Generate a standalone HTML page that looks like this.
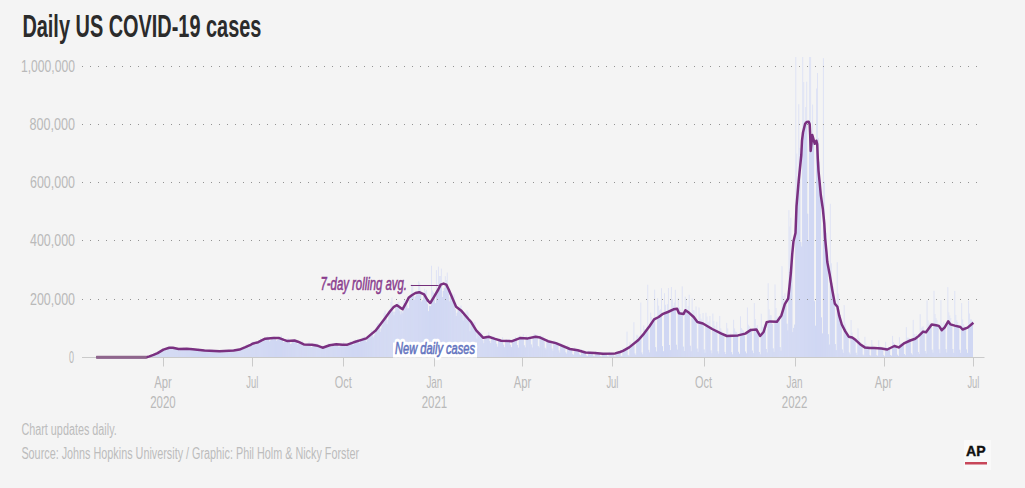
<!DOCTYPE html>
<html><head><meta charset="utf-8"><style>
html,body{margin:0;padding:0;background:#f4f4f4;width:1025px;height:488px;overflow:hidden}
svg{display:block}
text{font-family:"Liberation Sans",sans-serif}
</style></head><body>
<svg width="1025" height="488" viewBox="0 0 1025 488">
<rect width="1025" height="488" fill="#f4f4f4"/>
<defs><clipPath id="below"><path d="M96.3 357.3 L146.6 357.3 L149.4 356.4 L153.5 354.9 L157.6 353.1 L163.4 349.6 L169.3 347.8 L172.8 347.8 L178.6 349 L186.8 348.8 L192.7 349.2 L204.4 350.5 L219.6 351.2 L233.7 350.5 L239.5 349.6 L245.4 347.2 L250 345.2 L252.4 343.7 L258.2 342.2 L265.2 338.7 L273.4 338.1 L279.3 338.1 L284 339.9 L287.5 341.1 L294.5 340.5 L298 341.7 L303.9 344.4 L312 344.8 L317.9 345.8 L322.6 347.7 L329.6 345.2 L336.3 344.2 L342.6 344.7 L347.4 344.7 L353.7 342.3 L361.5 339.9 L366.3 338.4 L371 334.4 L375.7 330.5 L380.5 324.2 L385.2 317.9 L389.9 311.5 L393.9 306.8 L397 305.2 L400.2 307.6 L402.6 309.2 L405.7 303.7 L408.9 297.4 L411.8 295.2 L415.5 293 L419.2 292.2 L424.1 294.4 L427.8 300.6 L430.3 303 L434 296.9 L438.3 289.5 L440.7 284.6 L443.6 283.6 L446.3 284.6 L448.7 289.5 L456.1 306.7 L461 310.4 L468.4 319 L471 321.8 L476.2 330.3 L483.3 337.8 L488.7 336.8 L495 338.9 L501.2 340.8 L512.1 341.2 L520 338.1 L527.8 338.4 L535.6 336.8 L540.2 337.6 L548 341.2 L555.9 343.1 L569.9 349 L577.7 350.3 L585.5 352.5 L594.9 352.9 L602.7 353.7 L615.2 353.4 L620 352 L623 350.9 L629.2 347.4 L638.4 340 L644 333.6 L649.5 326.2 L654.1 319.4 L658.7 317 L662.4 314.2 L667.9 312 L673.5 309.3 L677.1 308.7 L679 313.3 L683.6 313.9 L685.4 310.2 L689.1 312.8 L693.7 317 L697.4 322 L702.9 323.5 L712.2 329 L721.4 333.6 L726.9 336 L738 335.4 L745.3 333.6 L750.9 329.9 L756.4 329.4 L760.1 336 L763.6 332 L766.6 322.3 L770 321.4 L776.9 321.7 L781.4 315.4 L784.8 304.1 L788.2 298.5 L789.3 288.3 L790.9 272.5 L792.2 254.5 L793.5 241.2 L795.5 233 L796.5 206.3 L798.6 181.7 L801.3 155 L802 140.7 L803 132.5 L805.1 123.8 L806.6 122.1 L808.7 121.8 L809.7 124.3 L810.2 135.6 L810.7 151 L812.3 135 L814.8 143.8 L816.3 140.7 L817.2 144 L817.8 158.5 L818.5 170.8 L819.7 183 L820.8 195 L822.9 209.3 L824.3 223.7 L825.1 238 L826.5 252.3 L827.3 262 L829.6 273.9 L832.2 289.6 L834.8 303.6 L837.4 306.8 L839.2 315.7 L841.8 324.5 L845.3 331.4 L848.7 336.7 L852.2 337.5 L855.7 340.1 L860.1 344.2 L864.8 347.4 L870 348.1 L874.3 348.1 L881.5 348.5 L887.3 349.5 L894.4 346 L898.7 347.4 L904.5 343.1 L910.2 340.5 L915.2 338.8 L918.8 335.9 L923.1 331.6 L926 332.3 L931.7 324.4 L936 325.2 L938.9 325.9 L941.8 330.2 L944.7 327.3 L948.2 321.3 L950.4 324.4 L954.7 325.6 L960.4 327 L962.6 329.5 L967.6 327.6 L973.4 322.7 L973.4 357.4 L96.3 357.4 Z"/></clipPath></defs>
<path d="M148.18 357.4V356.8M149.17 357.4V356.42M150.15 357.4V355.82M151.14 357.4V355.73M152.13 357.4V355.64M153.12 357.4V355.3M154.1 357.4V354.63M155.09 357.4V353.87M156.08 357.4V353.13M157.06 357.4V352.42M158.05 357.4V352.59M159.04 357.4V353.34M160.03 357.4V352.44M161.01 357.4V351.63M162 357.4V350.04M162.99 357.4V348.7M163.97 357.4V348.89M164.96 357.4V349.54M165.95 357.4V350.35M166.94 357.4V349.91M167.92 357.4V347.98M168.91 357.4V347.68M169.9 357.4V346.61M170.88 357.4V346.37M171.87 357.4V347.67M172.86 357.4V348.78M173.85 357.4V348.56M174.83 357.4V348.96M175.82 357.4V347.46M176.81 357.4V347.99M177.8 357.4V348.18M178.78 357.4V349.15M179.77 357.4V350.31M180.76 357.4V349.41M181.74 357.4V349.26M182.73 357.4V349.17M183.72 357.4V347.48M184.71 357.4V348.18M185.69 357.4V348.86M186.68 357.4V349.77M187.67 357.4V349.87M188.65 357.4V349.17M189.64 357.4V348.15M190.63 357.4V348.93M191.62 357.4V347.77M192.6 357.4V349.31M193.59 357.4V350.07M194.58 357.4V350.03M195.57 357.4V350.23M196.55 357.4V349.64M197.54 357.4V349.04M198.53 357.4V348.43M199.51 357.4V350.16M200.5 357.4V351.38M201.49 357.4V350.61M202.48 357.4V349.92M203.46 357.4V350.15M204.45 357.4V349.33M205.44 357.4V349.73M206.42 357.4V351.05M207.41 357.4V351.7M208.4 357.4V351.34M209.39 357.4V350.45M210.37 357.4V349.93M211.36 357.4V349.85M212.35 357.4V349.57M213.33 357.4V350.69M214.32 357.4V351.81M215.31 357.4V351.53M216.3 357.4V350.7M217.28 357.4V350.91M218.27 357.4V350.97M219.26 357.4V350.55M220.25 357.4V351.45M221.23 357.4V352.24M222.22 357.4V351.55M223.21 357.4V351.59M224.19 357.4V350.7M225.18 357.4V349.92M226.17 357.4V350.18M227.16 357.4V351.28M228.14 357.4V352.07M229.13 357.4V351.92M230.12 357.4V350.49M231.1 357.4V350.67M232.09 357.4V350.26M233.08 357.4V349.1M234.07 357.4V350.1M235.05 357.4V351.34M236.04 357.4V350.58M237.03 357.4V350.64M238.02 357.4V348.86M239 357.4V348.81M239.99 357.4V348.49M240.98 357.4V348.56M241.96 357.4V349.82M242.95 357.4V348.67M243.94 357.4V348.58M244.93 357.4V346.76M245.91 357.4V345.98M246.9 357.4V344.62M247.89 357.4V346.58M248.87 357.4V348.3M249.86 357.4V346.64M250.85 357.4V345.19M251.84 357.4V342.51M252.82 357.4V342.31M253.81 357.4V341.44M254.8 357.4V342.78M255.78 357.4V345.1M256.77 357.4V343.39M257.76 357.4V341.93M258.75 357.4V341.16M259.73 357.4V340.65M260.72 357.4V338.16M261.71 357.4V339.77M262.7 357.4V342.14M263.68 357.4V340.36M264.67 357.4V340.15M265.66 357.4V337.96M266.64 357.4V336.97M267.63 357.4V336.32M268.62 357.4V338.86M269.61 357.4V341.48M270.59 357.4V340.48M271.58 357.4V339.32M272.57 357.4V338.38M273.55 357.4V336.84M274.54 357.4V336.5M275.53 357.4V338.66M276.52 357.4V340.72M277.5 357.4V340.14M278.49 357.4V336.98M279.48 357.4V337.01M280.47 357.4V336.5M281.45 357.4V335.67M282.44 357.4V338.65M283.43 357.4V342.24M284.41 357.4V341.91M285.4 357.4V340.44M286.39 357.4V340.29M287.38 357.4V338.63M288.36 357.4V338.25M289.35 357.4V341.44M290.34 357.4V344.07M291.32 357.4V343.77M292.31 357.4V341.42M293.3 357.4V341.14M294.29 357.4V339.82M295.27 357.4V339.62M296.26 357.4V341.68M297.25 357.4V344.32M298.23 357.4V343.48M299.22 357.4V341.91M300.21 357.4V341.67M301.2 357.4V342.59M302.18 357.4V340.55M303.17 357.4V343.57M304.16 357.4V346.49M305.15 357.4V345.75M306.13 357.4V344.75M307.12 357.4V344.63M308.11 357.4V343.01M309.09 357.4V341.6M310.08 357.4V344.16M311.07 357.4V347.32M312.06 357.4V346.99M313.04 357.4V344.39M314.03 357.4V343.69M315.02 357.4V343.57M316 357.4V343.12M316.99 357.4V346.32M317.98 357.4V347.2M318.97 357.4V348.06M319.95 357.4V347.43M320.94 357.4V346.67M321.93 357.4V347.31M322.92 357.4V345.49M323.9 357.4V347.79M324.89 357.4V348.23M325.88 357.4V347.71M326.86 357.4V345.93M327.85 357.4V345.05M328.84 357.4V343.31M329.83 357.4V343.6M330.81 357.4V345.02M331.8 357.4V347.15M332.79 357.4V345.81M333.77 357.4V345.23M334.76 357.4V343.13M335.75 357.4V343.93M336.74 357.4V342.9M337.72 357.4V344.44M338.71 357.4V347.13M339.7 357.4V346.56M340.69 357.4V344.12M341.67 357.4V344.26M342.66 357.4V344.06M343.65 357.4V341.99M344.63 357.4V344.55M345.62 357.4V346.5M346.61 357.4V345.53M347.6 357.4V344.45M348.58 357.4V344.11M349.57 357.4V343.69M350.56 357.4V341.29M351.54 357.4V342.65M352.53 357.4V344.49M353.52 357.4V344.83M354.51 357.4V342.04M355.49 357.4V339.81M356.48 357.4V340.53M357.47 357.4V339.32M358.45 357.4V341.03M359.44 357.4V343.07M360.43 357.4V341.11M361.42 357.4V340.03M362.4 357.4V337.57M363.39 357.4V337M364.38 357.4V336.33M365.37 357.4V339.27M366.35 357.4V341.79M367.34 357.4V339.13M368.33 357.4V338.14M369.31 357.4V336.07M370.3 357.4V333.89M371.29 357.4V329.95M372.28 357.4V333.84M373.26 357.4V337.48M374.25 357.4V335.4M375.24 357.4V333.15M376.22 357.4V328.73M377.21 357.4V324.05M378.2 357.4V322.99M379.19 357.4V326.19M380.17 357.4V331.95M381.16 357.4V328.47M382.15 357.4V325.06M383.14 357.4V321.62M384.12 357.4V313.1M385.11 357.4V310.56M386.1 357.4V314.53M387.08 357.4V324.14M388.07 357.4V320.02M389.06 357.4V310.64M390.05 357.4V309.54M391.03 357.4V301.91M392.02 357.4V297.64M393.01 357.4V311.76M393.99 357.4V315.31M394.98 357.4V311.78M395.97 357.4V307.99M396.96 357.4V303.7M397.94 357.4V302.06M398.93 357.4V301.55M399.92 357.4V311.18M400.9 357.4V314.43M401.89 357.4V311.15M402.88 357.4V313.2M403.87 357.4V301.39M404.85 357.4V299.57M405.84 357.4V300.1M406.83 357.4V305.34M407.82 357.4V308.6M408.8 357.4V308.1M409.79 357.4V299.88M410.78 357.4V295.23M411.76 357.4V283.86M412.75 357.4V285.57M413.74 357.4V296.22M414.73 357.4V299.92M415.71 357.4V296.45M416.7 357.4V291.81M417.69 357.4V293.24M418.67 357.4V281.34M419.66 357.4V283.36M420.65 357.4V289.9M421.64 357.4V301.64M422.62 357.4V300M423.61 357.4V292.8M424.6 357.4V288.87M425.59 357.4V291.25M426.57 357.4V289.88M427.56 357.4V303.88M428.55 357.4V311.26M429.53 357.4V305.88M430.52 357.4V306.13M431.51 357.4V265.73M432.5 357.4V290.45M433.48 357.4V292.14M434.47 357.4V293.5M435.46 357.4V303.14M436.44 357.4V270.1M437.43 357.4V293.49M438.42 357.4V266.61M439.41 357.4V275.98M440.39 357.4V276.01M441.38 357.4V268.64M442.37 357.4V297.06M443.35 357.4V290.94M444.34 357.4V288.14M445.33 357.4V276.18M446.32 357.4V279.98M447.3 357.4V272.6M448.29 357.4V290.63M449.28 357.4V301.45M450.27 357.4V297.41M451.25 357.4V296.71M452.24 357.4V293.46M453.23 357.4V295.87M454.21 357.4V294.44M455.2 357.4V309.44M456.19 357.4V316.01M457.18 357.4V312.77M458.16 357.4V310.29M459.15 357.4V309.12M460.14 357.4V306.32M461.12 357.4V305.43M462.11 357.4V315.09M463.1 357.4V320.61M464.09 357.4V314.79M465.07 357.4V312.35M466.06 357.4V314.58M467.05 357.4V310.63M468.04 357.4V312.34M469.02 357.4V320.09M470.01 357.4V331.25M471 357.4V322.4M471.98 357.4V322.64M472.97 357.4V323.1M473.96 357.4V322.16M474.95 357.4V322.31M475.93 357.4V331.72M476.92 357.4V338.63M477.91 357.4V333.45M478.89 357.4V332.35M479.88 357.4V334.62M480.87 357.4V331.79M481.86 357.4V332.97M482.84 357.4V340.38M483.83 357.4V343.25M484.82 357.4V336.36M485.8 357.4V335.81M486.79 357.4V335.39M487.78 357.4V335.98M488.77 357.4V332.2M489.75 357.4V341M490.74 357.4V343.09M491.73 357.4V337.66M492.72 357.4V336.91M493.7 357.4V336.03M494.69 357.4V338.38M495.68 357.4V337.29M496.66 357.4V343.85M497.65 357.4V346.79M498.64 357.4V339.97M499.63 357.4V338.38M500.61 357.4V340.24M501.6 357.4V340.29M502.59 357.4V337.3M503.57 357.4V344.8M504.56 357.4V347.25M505.55 357.4V339.62M506.54 357.4V339.25M507.52 357.4V340.7M508.51 357.4V340.29M509.5 357.4V339.17M510.49 357.4V344.82M511.47 357.4V347.17M512.46 357.4V340.76M513.45 357.4V339.09M514.43 357.4V339.26M515.42 357.4V336.98M516.41 357.4V337.84M517.4 357.4V345.03M518.38 357.4V347.7M519.37 357.4V335.35M520.36 357.4V337.85M521.34 357.4V337.52M522.33 357.4V337.13M523.32 357.4V334.3M524.31 357.4V345.4M525.29 357.4V347.46M526.28 357.4V335.57M527.27 357.4V337.96M528.25 357.4V336.66M529.24 357.4V336.43M530.23 357.4V337.15M531.22 357.4V344.54M532.2 357.4V347.57M533.19 357.4V335.64M534.18 357.4V333.6M535.17 357.4V334.15M536.15 357.4V335.03M537.14 357.4V335.19M538.13 357.4V346.04M539.11 357.4V347.49M540.1 357.4V335.36M541.09 357.4V336.07M542.08 357.4V336.6M543.06 357.4V336.25M544.05 357.4V338.28M545.04 357.4V347.87M546.02 357.4V349.36M547.01 357.4V339.21M548 357.4V339.74M548.99 357.4V341.45M549.97 357.4V340.91M550.96 357.4V340.91M551.95 357.4V348.55M552.94 357.4V350.82M553.92 357.4V340.42M554.91 357.4V340.96M555.9 357.4V341.95M556.88 357.4V343.13M557.87 357.4V342.68M558.86 357.4V350.34M559.85 357.4V352.71M560.83 357.4V343.12M561.82 357.4V344.43M562.81 357.4V346.04M563.79 357.4V344.8M564.78 357.4V345.81M565.77 357.4V352.33M566.76 357.4V353.82M567.74 357.4V345.34M568.73 357.4V347.06M569.72 357.4V348.35M570.7 357.4V348.86M571.69 357.4V348.48M572.68 357.4V354.05M573.67 357.4V354.95M574.65 357.4V347.3M575.64 357.4V348.87M576.63 357.4V349.12M577.62 357.4V349.28M578.6 357.4V349.75M579.59 357.4V354.49M580.58 357.4V355.31M581.56 357.4V349.14M582.55 357.4V351.06M583.54 357.4V351.07M584.53 357.4V351.73M585.51 357.4V352.21M586.5 357.4V355.5M587.49 357.4V356.02M588.47 357.4V350.79M589.46 357.4V351.55M590.45 357.4V352.23M591.44 357.4V352.04M592.42 357.4V352.27M593.41 357.4V355.83M594.4 357.4V356.26M595.39 357.4V351.32M596.37 357.4V352.11M597.36 357.4V352.62M598.35 357.4V353.2M599.33 357.4V352.8M600.32 357.4V355.97M601.31 357.4V356.57M602.3 357.4V352.19M603.28 357.4V353.24M604.27 357.4V353.13M605.26 357.4V352.97M606.24 357.4V353.42M607.23 357.4V356.17M608.22 357.4V356.67M609.21 357.4V351.81M610.19 357.4V353.14M611.18 357.4V352.94M612.17 357.4V353.28M613.15 357.4V353.14M614.14 357.4V356.36M615.13 357.4V356.69M616.12 357.4V351.76M617.1 357.4V352.08M618.09 357.4V352.19M619.08 357.4V351.97M620.07 357.4V351.7M621.05 357.4V355.9M622.04 357.4V356.47M623.03 357.4V347.88M624.01 357.4V349.38M625 357.4V348.95M625.99 357.4V349M626.98 357.4V331.66M627.96 357.4V355.1M628.95 357.4V355.9M629.94 357.4V342.06M630.92 357.4V343.59M631.91 357.4V344.91M632.9 357.4V343.41M633.89 357.4V322.16M634.87 357.4V353.5M635.86 357.4V354.95M636.85 357.4V334.82M637.84 357.4V335.65M638.82 357.4V338.51M639.81 357.4V336.1M640.8 357.4V302.58M641.78 357.4V352.51M642.77 357.4V354.27M643.76 357.4V325.41M644.75 357.4V328.99M645.73 357.4V330.15M646.72 357.4V326.94M647.71 357.4V284.75M648.69 357.4V349.89M649.68 357.4V352.53M650.67 357.4V312.64M651.66 357.4V317.02M652.64 357.4V320.28M653.63 357.4V318.22M654.62 357.4V289.67M655.61 357.4V347.2M656.59 357.4V351.53M657.58 357.4V298.24M658.57 357.4V305.62M659.55 357.4V310.29M660.54 357.4V309.38M661.53 357.4V288.13M662.52 357.4V346.25M663.5 357.4V351.34M664.49 357.4V293.24M665.48 357.4V304.72M666.46 357.4V311.38M667.45 357.4V304.23M668.44 357.4V288M669.43 357.4V345.02M670.41 357.4V350.09M671.4 357.4V287.02M672.39 357.4V299.17M673.37 357.4V305.81M674.36 357.4V302.64M675.35 357.4V289.81M676.34 357.4V344.8M677.32 357.4V349.65M678.31 357.4V297.87M679.3 357.4V307.36M680.29 357.4V309.61M681.27 357.4V312.86M682.26 357.4V286.42M683.25 357.4V346.65M684.23 357.4V351.03M685.22 357.4V296.64M686.21 357.4V300.23M687.2 357.4V308.99M688.18 357.4V306.04M689.17 357.4V294.81M690.16 357.4V345.8M691.14 357.4V351.2M692.13 357.4V298.45M693.12 357.4V309.97M694.11 357.4V310.42M695.09 357.4V316.54M696.08 357.4V306.42M697.07 357.4V348.65M698.06 357.4V351.96M699.04 357.4V307.53M700.03 357.4V313.96M701.02 357.4V318.74M702 357.4V320.04M702.99 357.4V312.99M703.98 357.4V349.54M704.97 357.4V352.8M705.95 357.4V312.78M706.94 357.4V316.52M707.93 357.4V322.2M708.91 357.4V321.57M709.9 357.4V315.96M710.89 357.4V350.44M711.88 357.4V353.45M712.86 357.4V313.54M713.85 357.4V320.98M714.84 357.4V325.79M715.82 357.4V329.78M716.81 357.4V321.84M717.8 357.4V351.38M718.79 357.4V353.77M719.77 357.4V315.96M720.76 357.4V328.29M721.75 357.4V330.83M722.74 357.4V332.21M723.72 357.4V333.76M724.71 357.4V351.92M725.7 357.4V354.07M726.68 357.4V322.92M727.67 357.4V328.36M728.66 357.4V334.55M729.65 357.4V334.8M730.63 357.4V333.49M731.62 357.4V352.1M732.61 357.4V354.4M733.59 357.4V319.72M734.58 357.4V328.35M735.57 357.4V331.6M736.56 357.4V331.91M737.54 357.4V333.7M738.53 357.4V351.89M739.52 357.4V353.82M740.51 357.4V316.31M741.49 357.4V328.09M742.48 357.4V329.61M743.47 357.4V330.52M744.45 357.4V334.54M745.44 357.4V351.59M746.43 357.4V353.51M747.42 357.4V307.56M748.4 357.4V324.7M749.39 357.4V326.33M750.38 357.4V327.93M751.36 357.4V328.79M752.35 357.4V350.64M753.34 357.4V353.23M754.33 357.4V303.14M755.31 357.4V319.05M756.3 357.4V326.88M757.29 357.4V325.23M758.27 357.4V332.11M759.26 357.4V351.97M760.25 357.4V354.34M761.24 357.4V313.75M762.22 357.4V326.7M763.21 357.4V326.66M764.2 357.4V324.53M765.19 357.4V327.91M766.17 357.4V349M767.16 357.4V352.5M768.15 357.4V283.24M769.13 357.4V309.3M770.12 357.4V315.06M771.11 357.4V315.37M772.1 357.4V323.94M773.08 357.4V348.4M774.07 357.4V351.94M775.06 357.4V284.47M776.04 357.4V307.99M777.03 357.4V317.25M778.02 357.4V316.3M779.01 357.4V319.13M779.99 357.4V347.2M780.98 357.4V350.84M781.97 357.4V266.21M782.96 357.4V295.91M783.94 357.4V300.41M784.93 357.4V293.43M785.92 357.4V303.4M786.9 357.4V323.75M787.89 357.4V330.45M788.88 357.4V210.15M789.87 357.4V226.45M790.85 357.4V217.72M791.84 357.4V256.72M792.83 357.4V332.08M793.81 357.4V327.95M794.8 357.4V324.67M795.79 357.4V57M796.78 357.4V153.7M797.76 357.4V186.87M798.75 357.4V104.23M799.74 357.4V147.95M800.72 357.4V242.14M801.71 357.4V246.59M802.7 357.4V57M803.69 357.4V82.01M804.67 357.4V120.56M805.66 357.4V107.04M806.65 357.4V81.68M807.64 357.4V213.79M808.62 357.4V240.29M809.61 357.4V57M810.6 357.4V57M811.58 357.4V136.83M812.57 357.4V104.56M813.56 357.4V136.32M814.55 357.4V301.21M815.53 357.4V325.81M816.52 357.4V88.52M817.51 357.4V72.99M818.49 357.4V138.14M819.48 357.4V161.65M820.47 357.4V179.93M821.46 357.4V317.48M822.44 357.4V333.49M823.43 357.4V58.13M824.42 357.4V181.63M825.41 357.4V227.98M826.39 357.4V232.28M827.38 357.4V268.26M828.37 357.4V334.32M829.35 357.4V344.63M830.34 357.4V203.83M831.33 357.4V263.29M832.32 357.4V282.8M833.3 357.4V286.6M834.29 357.4V301.52M835.28 357.4V344.11M836.26 357.4V350.19M837.25 357.4V262.2M838.24 357.4V293.59M839.23 357.4V312.03M840.21 357.4V314.72M841.2 357.4V321.38M842.19 357.4V349.51M843.17 357.4V352.94M844.16 357.4V305.09M845.15 357.4V323.57M846.14 357.4V328.68M847.12 357.4V331.02M848.11 357.4V336.19M849.1 357.4V352.52M850.09 357.4V354.4M851.07 357.4V319.98M852.06 357.4V332.39M853.05 357.4V336.98M854.03 357.4V337.23M855.02 357.4V340.83M856.01 357.4V352.86M857 357.4V354.98M857.98 357.4V328.37M858.97 357.4V338.53M859.96 357.4V342.65M860.94 357.4V342.54M861.93 357.4V345.42M862.92 357.4V354.63M863.91 357.4V355.71M864.89 357.4V336.83M865.88 357.4V343.67M866.87 357.4V346.63M867.86 357.4V346.58M868.84 357.4V347.69M869.83 357.4V355.02M870.82 357.4V356.06M871.8 357.4V340.01M872.79 357.4V344.67M873.78 357.4V346.98M874.77 357.4V347.59M875.75 357.4V347.9M876.74 357.4V355.17M877.73 357.4V355.98M878.71 357.4V340.39M879.7 357.4V346.15M880.69 357.4V346.43M881.68 357.4V347.02M882.66 357.4V348.83M883.65 357.4V355.15M884.64 357.4V356.11M885.62 357.4V341.86M886.61 357.4V347.36M887.6 357.4V347.58M888.59 357.4V346.9M889.57 357.4V348.09M890.56 357.4V355.01M891.55 357.4V355.8M892.54 357.4V335.9M893.52 357.4V342.14M894.51 357.4V343.9M895.5 357.4V345.28M896.48 357.4V346.03M897.47 357.4V354.79M898.46 357.4V355.93M899.45 357.4V337.2M900.43 357.4V343.27M901.42 357.4V343.48M902.41 357.4V343.8M903.39 357.4V344.21M904.38 357.4V353.99M905.37 357.4V355.34M906.36 357.4V327.09M907.34 357.4V337.59M908.33 357.4V337.83M909.32 357.4V338.35M910.31 357.4V341.42M911.29 357.4V353.37M912.28 357.4V354.73M913.27 357.4V319.91M914.25 357.4V333.98M915.24 357.4V335.85M916.23 357.4V333.96M917.22 357.4V336.69M918.2 357.4V352.06M919.19 357.4V353.91M920.18 357.4V314.1M921.16 357.4V328M922.15 357.4V326.79M923.14 357.4V326.28M924.13 357.4V329.9M925.11 357.4V351.05M926.1 357.4V353.66M927.09 357.4V300.32M928.07 357.4V320.33M929.06 357.4V324.1M930.05 357.4V322.45M931.04 357.4V325.43M932.02 357.4V349.74M933.01 357.4V352.76M934 357.4V290.85M934.99 357.4V314.02M935.97 357.4V318.09M936.96 357.4V320.2M937.95 357.4V327.46M938.93 357.4V349.3M939.92 357.4V353.15M940.91 357.4V300.07M941.9 357.4V323.61M942.88 357.4V326.04M943.87 357.4V321.74M944.86 357.4V326.77M945.84 357.4V349.07M946.83 357.4V352.62M947.82 357.4V287.12M948.81 357.4V312.37M949.79 357.4V315.5M950.78 357.4V318.11M951.77 357.4V323.1M952.76 357.4V349.08M953.74 357.4V352.92M954.73 357.4V290.93M955.72 357.4V314.9M956.7 357.4V320.25M957.69 357.4V322.09M958.68 357.4V327.7M959.67 357.4V349.76M960.65 357.4V352.95M961.64 357.4V303.07M962.63 357.4V319.53M963.61 357.4V324.03M964.6 357.4V326.28M965.59 357.4V327.84M966.58 357.4V349.52M967.56 357.4V352.91M968.55 357.4V300.65M969.54 357.4V313.48M970.52 357.4V319.4M971.51 357.4V319.45M972.5 357.4V321" stroke="#dfe3f5" stroke-width="0.99" fill="none"/>
<path d="M148.18 357.4V356.8M149.17 357.4V356.42M150.15 357.4V355.82M151.14 357.4V355.73M152.13 357.4V355.64M153.12 357.4V355.3M154.1 357.4V354.63M155.09 357.4V353.87M156.08 357.4V353.13M157.06 357.4V352.42M158.05 357.4V352.59M159.04 357.4V353.34M160.03 357.4V352.44M161.01 357.4V351.63M162 357.4V350.04M162.99 357.4V348.7M163.97 357.4V348.89M164.96 357.4V349.54M165.95 357.4V350.35M166.94 357.4V349.91M167.92 357.4V347.98M168.91 357.4V347.68M169.9 357.4V346.61M170.88 357.4V346.37M171.87 357.4V347.67M172.86 357.4V348.78M173.85 357.4V348.56M174.83 357.4V348.96M175.82 357.4V347.46M176.81 357.4V347.99M177.8 357.4V348.18M178.78 357.4V349.15M179.77 357.4V350.31M180.76 357.4V349.41M181.74 357.4V349.26M182.73 357.4V349.17M183.72 357.4V347.48M184.71 357.4V348.18M185.69 357.4V348.86M186.68 357.4V349.77M187.67 357.4V349.87M188.65 357.4V349.17M189.64 357.4V348.15M190.63 357.4V348.93M191.62 357.4V347.77M192.6 357.4V349.31M193.59 357.4V350.07M194.58 357.4V350.03M195.57 357.4V350.23M196.55 357.4V349.64M197.54 357.4V349.04M198.53 357.4V348.43M199.51 357.4V350.16M200.5 357.4V351.38M201.49 357.4V350.61M202.48 357.4V349.92M203.46 357.4V350.15M204.45 357.4V349.33M205.44 357.4V349.73M206.42 357.4V351.05M207.41 357.4V351.7M208.4 357.4V351.34M209.39 357.4V350.45M210.37 357.4V349.93M211.36 357.4V349.85M212.35 357.4V349.57M213.33 357.4V350.69M214.32 357.4V351.81M215.31 357.4V351.53M216.3 357.4V350.7M217.28 357.4V350.91M218.27 357.4V350.97M219.26 357.4V350.55M220.25 357.4V351.45M221.23 357.4V352.24M222.22 357.4V351.55M223.21 357.4V351.59M224.19 357.4V350.7M225.18 357.4V349.92M226.17 357.4V350.18M227.16 357.4V351.28M228.14 357.4V352.07M229.13 357.4V351.92M230.12 357.4V350.49M231.1 357.4V350.67M232.09 357.4V350.26M233.08 357.4V349.1M234.07 357.4V350.1M235.05 357.4V351.34M236.04 357.4V350.58M237.03 357.4V350.64M238.02 357.4V348.86M239 357.4V348.81M239.99 357.4V348.49M240.98 357.4V348.56M241.96 357.4V349.82M242.95 357.4V348.67M243.94 357.4V348.58M244.93 357.4V346.76M245.91 357.4V345.98M246.9 357.4V344.62M247.89 357.4V346.58M248.87 357.4V348.3M249.86 357.4V346.64M250.85 357.4V345.19M251.84 357.4V342.51M252.82 357.4V342.31M253.81 357.4V341.44M254.8 357.4V342.78M255.78 357.4V345.1M256.77 357.4V343.39M257.76 357.4V341.93M258.75 357.4V341.16M259.73 357.4V340.65M260.72 357.4V338.16M261.71 357.4V339.77M262.7 357.4V342.14M263.68 357.4V340.36M264.67 357.4V340.15M265.66 357.4V337.96M266.64 357.4V336.97M267.63 357.4V336.32M268.62 357.4V338.86M269.61 357.4V341.48M270.59 357.4V340.48M271.58 357.4V339.32M272.57 357.4V338.38M273.55 357.4V336.84M274.54 357.4V336.5M275.53 357.4V338.66M276.52 357.4V340.72M277.5 357.4V340.14M278.49 357.4V336.98M279.48 357.4V337.01M280.47 357.4V336.5M281.45 357.4V335.67M282.44 357.4V338.65M283.43 357.4V342.24M284.41 357.4V341.91M285.4 357.4V340.44M286.39 357.4V340.29M287.38 357.4V338.63M288.36 357.4V338.25M289.35 357.4V341.44M290.34 357.4V344.07M291.32 357.4V343.77M292.31 357.4V341.42M293.3 357.4V341.14M294.29 357.4V339.82M295.27 357.4V339.62M296.26 357.4V341.68M297.25 357.4V344.32M298.23 357.4V343.48M299.22 357.4V341.91M300.21 357.4V341.67M301.2 357.4V342.59M302.18 357.4V340.55M303.17 357.4V343.57M304.16 357.4V346.49M305.15 357.4V345.75M306.13 357.4V344.75M307.12 357.4V344.63M308.11 357.4V343.01M309.09 357.4V341.6M310.08 357.4V344.16M311.07 357.4V347.32M312.06 357.4V346.99M313.04 357.4V344.39M314.03 357.4V343.69M315.02 357.4V343.57M316 357.4V343.12M316.99 357.4V346.32M317.98 357.4V347.2M318.97 357.4V348.06M319.95 357.4V347.43M320.94 357.4V346.67M321.93 357.4V347.31M322.92 357.4V345.49M323.9 357.4V347.79M324.89 357.4V348.23M325.88 357.4V347.71M326.86 357.4V345.93M327.85 357.4V345.05M328.84 357.4V343.31M329.83 357.4V343.6M330.81 357.4V345.02M331.8 357.4V347.15M332.79 357.4V345.81M333.77 357.4V345.23M334.76 357.4V343.13M335.75 357.4V343.93M336.74 357.4V342.9M337.72 357.4V344.44M338.71 357.4V347.13M339.7 357.4V346.56M340.69 357.4V344.12M341.67 357.4V344.26M342.66 357.4V344.06M343.65 357.4V341.99M344.63 357.4V344.55M345.62 357.4V346.5M346.61 357.4V345.53M347.6 357.4V344.45M348.58 357.4V344.11M349.57 357.4V343.69M350.56 357.4V341.29M351.54 357.4V342.65M352.53 357.4V344.49M353.52 357.4V344.83M354.51 357.4V342.04M355.49 357.4V339.81M356.48 357.4V340.53M357.47 357.4V339.32M358.45 357.4V341.03M359.44 357.4V343.07M360.43 357.4V341.11M361.42 357.4V340.03M362.4 357.4V337.57M363.39 357.4V337M364.38 357.4V336.33M365.37 357.4V339.27M366.35 357.4V341.79M367.34 357.4V339.13M368.33 357.4V338.14M369.31 357.4V336.07M370.3 357.4V333.89M371.29 357.4V329.95M372.28 357.4V333.84M373.26 357.4V337.48M374.25 357.4V335.4M375.24 357.4V333.15M376.22 357.4V328.73M377.21 357.4V324.05M378.2 357.4V322.99M379.19 357.4V326.19M380.17 357.4V331.95M381.16 357.4V328.47M382.15 357.4V325.06M383.14 357.4V321.62M384.12 357.4V313.1M385.11 357.4V310.56M386.1 357.4V314.53M387.08 357.4V324.14M388.07 357.4V320.02M389.06 357.4V310.64M390.05 357.4V309.54M391.03 357.4V301.91M392.02 357.4V297.64M393.01 357.4V311.76M393.99 357.4V315.31M394.98 357.4V311.78M395.97 357.4V307.99M396.96 357.4V303.7M397.94 357.4V302.06M398.93 357.4V301.55M399.92 357.4V311.18M400.9 357.4V314.43M401.89 357.4V311.15M402.88 357.4V313.2M403.87 357.4V301.39M404.85 357.4V299.57M405.84 357.4V300.1M406.83 357.4V305.34M407.82 357.4V308.6M408.8 357.4V308.1M409.79 357.4V299.88M410.78 357.4V295.23M411.76 357.4V283.86M412.75 357.4V285.57M413.74 357.4V296.22M414.73 357.4V299.92M415.71 357.4V296.45M416.7 357.4V291.81M417.69 357.4V293.24M418.67 357.4V281.34M419.66 357.4V283.36M420.65 357.4V289.9M421.64 357.4V301.64M422.62 357.4V300M423.61 357.4V292.8M424.6 357.4V288.87M425.59 357.4V291.25M426.57 357.4V289.88M427.56 357.4V303.88M428.55 357.4V311.26M429.53 357.4V305.88M430.52 357.4V306.13M431.51 357.4V265.73M432.5 357.4V290.45M433.48 357.4V292.14M434.47 357.4V293.5M435.46 357.4V303.14M436.44 357.4V270.1M437.43 357.4V293.49M438.42 357.4V266.61M439.41 357.4V275.98M440.39 357.4V276.01M441.38 357.4V268.64M442.37 357.4V297.06M443.35 357.4V290.94M444.34 357.4V288.14M445.33 357.4V276.18M446.32 357.4V279.98M447.3 357.4V272.6M448.29 357.4V290.63M449.28 357.4V301.45M450.27 357.4V297.41M451.25 357.4V296.71M452.24 357.4V293.46M453.23 357.4V295.87M454.21 357.4V294.44M455.2 357.4V309.44M456.19 357.4V316.01M457.18 357.4V312.77M458.16 357.4V310.29M459.15 357.4V309.12M460.14 357.4V306.32M461.12 357.4V305.43M462.11 357.4V315.09M463.1 357.4V320.61M464.09 357.4V314.79M465.07 357.4V312.35M466.06 357.4V314.58M467.05 357.4V310.63M468.04 357.4V312.34M469.02 357.4V320.09M470.01 357.4V331.25M471 357.4V322.4M471.98 357.4V322.64M472.97 357.4V323.1M473.96 357.4V322.16M474.95 357.4V322.31M475.93 357.4V331.72M476.92 357.4V338.63M477.91 357.4V333.45M478.89 357.4V332.35M479.88 357.4V334.62M480.87 357.4V331.79M481.86 357.4V332.97M482.84 357.4V340.38M483.83 357.4V343.25M484.82 357.4V336.36M485.8 357.4V335.81M486.79 357.4V335.39M487.78 357.4V335.98M488.77 357.4V332.2M489.75 357.4V341M490.74 357.4V343.09M491.73 357.4V337.66M492.72 357.4V336.91M493.7 357.4V336.03M494.69 357.4V338.38M495.68 357.4V337.29M496.66 357.4V343.85M497.65 357.4V346.79M498.64 357.4V339.97M499.63 357.4V338.38M500.61 357.4V340.24M501.6 357.4V340.29M502.59 357.4V337.3M503.57 357.4V344.8M504.56 357.4V347.25M505.55 357.4V339.62M506.54 357.4V339.25M507.52 357.4V340.7M508.51 357.4V340.29M509.5 357.4V339.17M510.49 357.4V344.82M511.47 357.4V347.17M512.46 357.4V340.76M513.45 357.4V339.09M514.43 357.4V339.26M515.42 357.4V336.98M516.41 357.4V337.84M517.4 357.4V345.03M518.38 357.4V347.7M519.37 357.4V335.35M520.36 357.4V337.85M521.34 357.4V337.52M522.33 357.4V337.13M523.32 357.4V334.3M524.31 357.4V345.4M525.29 357.4V347.46M526.28 357.4V335.57M527.27 357.4V337.96M528.25 357.4V336.66M529.24 357.4V336.43M530.23 357.4V337.15M531.22 357.4V344.54M532.2 357.4V347.57M533.19 357.4V335.64M534.18 357.4V333.6M535.17 357.4V334.15M536.15 357.4V335.03M537.14 357.4V335.19M538.13 357.4V346.04M539.11 357.4V347.49M540.1 357.4V335.36M541.09 357.4V336.07M542.08 357.4V336.6M543.06 357.4V336.25M544.05 357.4V338.28M545.04 357.4V347.87M546.02 357.4V349.36M547.01 357.4V339.21M548 357.4V339.74M548.99 357.4V341.45M549.97 357.4V340.91M550.96 357.4V340.91M551.95 357.4V348.55M552.94 357.4V350.82M553.92 357.4V340.42M554.91 357.4V340.96M555.9 357.4V341.95M556.88 357.4V343.13M557.87 357.4V342.68M558.86 357.4V350.34M559.85 357.4V352.71M560.83 357.4V343.12M561.82 357.4V344.43M562.81 357.4V346.04M563.79 357.4V344.8M564.78 357.4V345.81M565.77 357.4V352.33M566.76 357.4V353.82M567.74 357.4V345.34M568.73 357.4V347.06M569.72 357.4V348.35M570.7 357.4V348.86M571.69 357.4V348.48M572.68 357.4V354.05M573.67 357.4V354.95M574.65 357.4V347.3M575.64 357.4V348.87M576.63 357.4V349.12M577.62 357.4V349.28M578.6 357.4V349.75M579.59 357.4V354.49M580.58 357.4V355.31M581.56 357.4V349.14M582.55 357.4V351.06M583.54 357.4V351.07M584.53 357.4V351.73M585.51 357.4V352.21M586.5 357.4V355.5M587.49 357.4V356.02M588.47 357.4V350.79M589.46 357.4V351.55M590.45 357.4V352.23M591.44 357.4V352.04M592.42 357.4V352.27M593.41 357.4V355.83M594.4 357.4V356.26M595.39 357.4V351.32M596.37 357.4V352.11M597.36 357.4V352.62M598.35 357.4V353.2M599.33 357.4V352.8M600.32 357.4V355.97M601.31 357.4V356.57M602.3 357.4V352.19M603.28 357.4V353.24M604.27 357.4V353.13M605.26 357.4V352.97M606.24 357.4V353.42M607.23 357.4V356.17M608.22 357.4V356.67M609.21 357.4V351.81M610.19 357.4V353.14M611.18 357.4V352.94M612.17 357.4V353.28M613.15 357.4V353.14M614.14 357.4V356.36M615.13 357.4V356.69M616.12 357.4V351.76M617.1 357.4V352.08M618.09 357.4V352.19M619.08 357.4V351.97M620.07 357.4V351.7M621.05 357.4V355.9M622.04 357.4V356.47M623.03 357.4V347.88M624.01 357.4V349.38M625 357.4V348.95M625.99 357.4V349M626.98 357.4V331.66M627.96 357.4V355.1M628.95 357.4V355.9M629.94 357.4V342.06M630.92 357.4V343.59M631.91 357.4V344.91M632.9 357.4V343.41M633.89 357.4V322.16M634.87 357.4V353.5M635.86 357.4V354.95M636.85 357.4V334.82M637.84 357.4V335.65M638.82 357.4V338.51M639.81 357.4V336.1M640.8 357.4V302.58M641.78 357.4V352.51M642.77 357.4V354.27M643.76 357.4V325.41M644.75 357.4V328.99M645.73 357.4V330.15M646.72 357.4V326.94M647.71 357.4V284.75M648.69 357.4V349.89M649.68 357.4V352.53M650.67 357.4V312.64M651.66 357.4V317.02M652.64 357.4V320.28M653.63 357.4V318.22M654.62 357.4V289.67M655.61 357.4V347.2M656.59 357.4V351.53M657.58 357.4V298.24M658.57 357.4V305.62M659.55 357.4V310.29M660.54 357.4V309.38M661.53 357.4V288.13M662.52 357.4V346.25M663.5 357.4V351.34M664.49 357.4V293.24M665.48 357.4V304.72M666.46 357.4V311.38M667.45 357.4V304.23M668.44 357.4V288M669.43 357.4V345.02M670.41 357.4V350.09M671.4 357.4V287.02M672.39 357.4V299.17M673.37 357.4V305.81M674.36 357.4V302.64M675.35 357.4V289.81M676.34 357.4V344.8M677.32 357.4V349.65M678.31 357.4V297.87M679.3 357.4V307.36M680.29 357.4V309.61M681.27 357.4V312.86M682.26 357.4V286.42M683.25 357.4V346.65M684.23 357.4V351.03M685.22 357.4V296.64M686.21 357.4V300.23M687.2 357.4V308.99M688.18 357.4V306.04M689.17 357.4V294.81M690.16 357.4V345.8M691.14 357.4V351.2M692.13 357.4V298.45M693.12 357.4V309.97M694.11 357.4V310.42M695.09 357.4V316.54M696.08 357.4V306.42M697.07 357.4V348.65M698.06 357.4V351.96M699.04 357.4V307.53M700.03 357.4V313.96M701.02 357.4V318.74M702 357.4V320.04M702.99 357.4V312.99M703.98 357.4V349.54M704.97 357.4V352.8M705.95 357.4V312.78M706.94 357.4V316.52M707.93 357.4V322.2M708.91 357.4V321.57M709.9 357.4V315.96M710.89 357.4V350.44M711.88 357.4V353.45M712.86 357.4V313.54M713.85 357.4V320.98M714.84 357.4V325.79M715.82 357.4V329.78M716.81 357.4V321.84M717.8 357.4V351.38M718.79 357.4V353.77M719.77 357.4V315.96M720.76 357.4V328.29M721.75 357.4V330.83M722.74 357.4V332.21M723.72 357.4V333.76M724.71 357.4V351.92M725.7 357.4V354.07M726.68 357.4V322.92M727.67 357.4V328.36M728.66 357.4V334.55M729.65 357.4V334.8M730.63 357.4V333.49M731.62 357.4V352.1M732.61 357.4V354.4M733.59 357.4V319.72M734.58 357.4V328.35M735.57 357.4V331.6M736.56 357.4V331.91M737.54 357.4V333.7M738.53 357.4V351.89M739.52 357.4V353.82M740.51 357.4V316.31M741.49 357.4V328.09M742.48 357.4V329.61M743.47 357.4V330.52M744.45 357.4V334.54M745.44 357.4V351.59M746.43 357.4V353.51M747.42 357.4V307.56M748.4 357.4V324.7M749.39 357.4V326.33M750.38 357.4V327.93M751.36 357.4V328.79M752.35 357.4V350.64M753.34 357.4V353.23M754.33 357.4V303.14M755.31 357.4V319.05M756.3 357.4V326.88M757.29 357.4V325.23M758.27 357.4V332.11M759.26 357.4V351.97M760.25 357.4V354.34M761.24 357.4V313.75M762.22 357.4V326.7M763.21 357.4V326.66M764.2 357.4V324.53M765.19 357.4V327.91M766.17 357.4V349M767.16 357.4V352.5M768.15 357.4V283.24M769.13 357.4V309.3M770.12 357.4V315.06M771.11 357.4V315.37M772.1 357.4V323.94M773.08 357.4V348.4M774.07 357.4V351.94M775.06 357.4V284.47M776.04 357.4V307.99M777.03 357.4V317.25M778.02 357.4V316.3M779.01 357.4V319.13M779.99 357.4V347.2M780.98 357.4V350.84M781.97 357.4V266.21M782.96 357.4V295.91M783.94 357.4V300.41M784.93 357.4V293.43M785.92 357.4V303.4M786.9 357.4V323.75M787.89 357.4V330.45M788.88 357.4V210.15M789.87 357.4V226.45M790.85 357.4V217.72M791.84 357.4V256.72M792.83 357.4V332.08M793.81 357.4V327.95M794.8 357.4V324.67M795.79 357.4V57M796.78 357.4V153.7M797.76 357.4V186.87M798.75 357.4V104.23M799.74 357.4V147.95M800.72 357.4V242.14M801.71 357.4V246.59M802.7 357.4V57M803.69 357.4V82.01M804.67 357.4V120.56M805.66 357.4V107.04M806.65 357.4V81.68M807.64 357.4V213.79M808.62 357.4V240.29M809.61 357.4V57M810.6 357.4V57M811.58 357.4V136.83M812.57 357.4V104.56M813.56 357.4V136.32M814.55 357.4V301.21M815.53 357.4V325.81M816.52 357.4V88.52M817.51 357.4V72.99M818.49 357.4V138.14M819.48 357.4V161.65M820.47 357.4V179.93M821.46 357.4V317.48M822.44 357.4V333.49M823.43 357.4V58.13M824.42 357.4V181.63M825.41 357.4V227.98M826.39 357.4V232.28M827.38 357.4V268.26M828.37 357.4V334.32M829.35 357.4V344.63M830.34 357.4V203.83M831.33 357.4V263.29M832.32 357.4V282.8M833.3 357.4V286.6M834.29 357.4V301.52M835.28 357.4V344.11M836.26 357.4V350.19M837.25 357.4V262.2M838.24 357.4V293.59M839.23 357.4V312.03M840.21 357.4V314.72M841.2 357.4V321.38M842.19 357.4V349.51M843.17 357.4V352.94M844.16 357.4V305.09M845.15 357.4V323.57M846.14 357.4V328.68M847.12 357.4V331.02M848.11 357.4V336.19M849.1 357.4V352.52M850.09 357.4V354.4M851.07 357.4V319.98M852.06 357.4V332.39M853.05 357.4V336.98M854.03 357.4V337.23M855.02 357.4V340.83M856.01 357.4V352.86M857 357.4V354.98M857.98 357.4V328.37M858.97 357.4V338.53M859.96 357.4V342.65M860.94 357.4V342.54M861.93 357.4V345.42M862.92 357.4V354.63M863.91 357.4V355.71M864.89 357.4V336.83M865.88 357.4V343.67M866.87 357.4V346.63M867.86 357.4V346.58M868.84 357.4V347.69M869.83 357.4V355.02M870.82 357.4V356.06M871.8 357.4V340.01M872.79 357.4V344.67M873.78 357.4V346.98M874.77 357.4V347.59M875.75 357.4V347.9M876.74 357.4V355.17M877.73 357.4V355.98M878.71 357.4V340.39M879.7 357.4V346.15M880.69 357.4V346.43M881.68 357.4V347.02M882.66 357.4V348.83M883.65 357.4V355.15M884.64 357.4V356.11M885.62 357.4V341.86M886.61 357.4V347.36M887.6 357.4V347.58M888.59 357.4V346.9M889.57 357.4V348.09M890.56 357.4V355.01M891.55 357.4V355.8M892.54 357.4V335.9M893.52 357.4V342.14M894.51 357.4V343.9M895.5 357.4V345.28M896.48 357.4V346.03M897.47 357.4V354.79M898.46 357.4V355.93M899.45 357.4V337.2M900.43 357.4V343.27M901.42 357.4V343.48M902.41 357.4V343.8M903.39 357.4V344.21M904.38 357.4V353.99M905.37 357.4V355.34M906.36 357.4V327.09M907.34 357.4V337.59M908.33 357.4V337.83M909.32 357.4V338.35M910.31 357.4V341.42M911.29 357.4V353.37M912.28 357.4V354.73M913.27 357.4V319.91M914.25 357.4V333.98M915.24 357.4V335.85M916.23 357.4V333.96M917.22 357.4V336.69M918.2 357.4V352.06M919.19 357.4V353.91M920.18 357.4V314.1M921.16 357.4V328M922.15 357.4V326.79M923.14 357.4V326.28M924.13 357.4V329.9M925.11 357.4V351.05M926.1 357.4V353.66M927.09 357.4V300.32M928.07 357.4V320.33M929.06 357.4V324.1M930.05 357.4V322.45M931.04 357.4V325.43M932.02 357.4V349.74M933.01 357.4V352.76M934 357.4V290.85M934.99 357.4V314.02M935.97 357.4V318.09M936.96 357.4V320.2M937.95 357.4V327.46M938.93 357.4V349.3M939.92 357.4V353.15M940.91 357.4V300.07M941.9 357.4V323.61M942.88 357.4V326.04M943.87 357.4V321.74M944.86 357.4V326.77M945.84 357.4V349.07M946.83 357.4V352.62M947.82 357.4V287.12M948.81 357.4V312.37M949.79 357.4V315.5M950.78 357.4V318.11M951.77 357.4V323.1M952.76 357.4V349.08M953.74 357.4V352.92M954.73 357.4V290.93M955.72 357.4V314.9M956.7 357.4V320.25M957.69 357.4V322.09M958.68 357.4V327.7M959.67 357.4V349.76M960.65 357.4V352.95M961.64 357.4V303.07M962.63 357.4V319.53M963.61 357.4V324.03M964.6 357.4V326.28M965.59 357.4V327.84M966.58 357.4V349.52M967.56 357.4V352.91M968.55 357.4V300.65M969.54 357.4V313.48M970.52 357.4V319.4M971.51 357.4V319.45M972.5 357.4V321" stroke="#cfd7f3" stroke-width="0.99" fill="none" clip-path="url(#below)"/>
<path d="M82 66.5h1M90 66.5h1M98 66.5h1M106 66.5h1M114 66.5h1M122 66.5h1M130 66.5h1M138 66.5h1M146 66.5h1M155 66.5h1M163 66.5h1M171 66.5h1M179 66.5h1M187 66.5h1M195 66.5h1M203 66.5h1M211 66.5h1M219 66.5h1M227 66.5h1M235 66.5h1M243 66.5h1M251 66.5h1M259 66.5h1M267 66.5h1M275 66.5h1M283 66.5h1M291 66.5h1M300 66.5h1M308 66.5h1M316 66.5h1M324 66.5h1M332 66.5h1M340 66.5h1M348 66.5h1M356 66.5h1M364 66.5h1M372 66.5h1M380 66.5h1M388 66.5h1M396 66.5h1M404 66.5h1M412 66.5h1M420 66.5h1M428 66.5h1M437 66.5h1M445 66.5h1M453 66.5h1M461 66.5h1M469 66.5h1M477 66.5h1M485 66.5h1M493 66.5h1M501 66.5h1M509 66.5h1M517 66.5h1M525 66.5h1M533 66.5h1M541 66.5h1M549 66.5h1M557 66.5h1M565 66.5h1M573 66.5h1M582 66.5h1M590 66.5h1M598 66.5h1M606 66.5h1M614 66.5h1M622 66.5h1M630 66.5h1M638 66.5h1M646 66.5h1M654 66.5h1M662 66.5h1M670 66.5h1M678 66.5h1M686 66.5h1M694 66.5h1M702 66.5h1M710 66.5h1M719 66.5h1M727 66.5h1M735 66.5h1M743 66.5h1M751 66.5h1M759 66.5h1M767 66.5h1M775 66.5h1M783 66.5h1M791 66.5h1M799 66.5h1M807 66.5h1M815 66.5h1M823 66.5h1M831 66.5h1M839 66.5h1M847 66.5h1M855 66.5h1M864 66.5h1M872 66.5h1M880 66.5h1M888 66.5h1M896 66.5h1M904 66.5h1M912 66.5h1M920 66.5h1M928 66.5h1M936 66.5h1M944 66.5h1M952 66.5h1M960 66.5h1M968 66.5h1M976 66.5h1M82 124.5h1M90 124.5h1M98 124.5h1M106 124.5h1M114 124.5h1M122 124.5h1M130 124.5h1M138 124.5h1M146 124.5h1M155 124.5h1M163 124.5h1M171 124.5h1M179 124.5h1M187 124.5h1M195 124.5h1M203 124.5h1M211 124.5h1M219 124.5h1M227 124.5h1M235 124.5h1M243 124.5h1M251 124.5h1M259 124.5h1M267 124.5h1M275 124.5h1M283 124.5h1M291 124.5h1M300 124.5h1M308 124.5h1M316 124.5h1M324 124.5h1M332 124.5h1M340 124.5h1M348 124.5h1M356 124.5h1M364 124.5h1M372 124.5h1M380 124.5h1M388 124.5h1M396 124.5h1M404 124.5h1M412 124.5h1M420 124.5h1M428 124.5h1M437 124.5h1M445 124.5h1M453 124.5h1M461 124.5h1M469 124.5h1M477 124.5h1M485 124.5h1M493 124.5h1M501 124.5h1M509 124.5h1M517 124.5h1M525 124.5h1M533 124.5h1M541 124.5h1M549 124.5h1M557 124.5h1M565 124.5h1M573 124.5h1M582 124.5h1M590 124.5h1M598 124.5h1M606 124.5h1M614 124.5h1M622 124.5h1M630 124.5h1M638 124.5h1M646 124.5h1M654 124.5h1M662 124.5h1M670 124.5h1M678 124.5h1M686 124.5h1M694 124.5h1M702 124.5h1M710 124.5h1M719 124.5h1M727 124.5h1M735 124.5h1M743 124.5h1M751 124.5h1M759 124.5h1M767 124.5h1M775 124.5h1M783 124.5h1M791 124.5h1M799 124.5h1M807 124.5h1M815 124.5h1M823 124.5h1M831 124.5h1M839 124.5h1M847 124.5h1M855 124.5h1M864 124.5h1M872 124.5h1M880 124.5h1M888 124.5h1M896 124.5h1M904 124.5h1M912 124.5h1M920 124.5h1M928 124.5h1M936 124.5h1M944 124.5h1M952 124.5h1M960 124.5h1M968 124.5h1M976 124.5h1M82 182.5h1M90 182.5h1M98 182.5h1M106 182.5h1M114 182.5h1M122 182.5h1M130 182.5h1M138 182.5h1M146 182.5h1M155 182.5h1M163 182.5h1M171 182.5h1M179 182.5h1M187 182.5h1M195 182.5h1M203 182.5h1M211 182.5h1M219 182.5h1M227 182.5h1M235 182.5h1M243 182.5h1M251 182.5h1M259 182.5h1M267 182.5h1M275 182.5h1M283 182.5h1M291 182.5h1M300 182.5h1M308 182.5h1M316 182.5h1M324 182.5h1M332 182.5h1M340 182.5h1M348 182.5h1M356 182.5h1M364 182.5h1M372 182.5h1M380 182.5h1M388 182.5h1M396 182.5h1M404 182.5h1M412 182.5h1M420 182.5h1M428 182.5h1M437 182.5h1M445 182.5h1M453 182.5h1M461 182.5h1M469 182.5h1M477 182.5h1M485 182.5h1M493 182.5h1M501 182.5h1M509 182.5h1M517 182.5h1M525 182.5h1M533 182.5h1M541 182.5h1M549 182.5h1M557 182.5h1M565 182.5h1M573 182.5h1M582 182.5h1M590 182.5h1M598 182.5h1M606 182.5h1M614 182.5h1M622 182.5h1M630 182.5h1M638 182.5h1M646 182.5h1M654 182.5h1M662 182.5h1M670 182.5h1M678 182.5h1M686 182.5h1M694 182.5h1M702 182.5h1M710 182.5h1M719 182.5h1M727 182.5h1M735 182.5h1M743 182.5h1M751 182.5h1M759 182.5h1M767 182.5h1M775 182.5h1M783 182.5h1M791 182.5h1M799 182.5h1M807 182.5h1M815 182.5h1M823 182.5h1M831 182.5h1M839 182.5h1M847 182.5h1M855 182.5h1M864 182.5h1M872 182.5h1M880 182.5h1M888 182.5h1M896 182.5h1M904 182.5h1M912 182.5h1M920 182.5h1M928 182.5h1M936 182.5h1M944 182.5h1M952 182.5h1M960 182.5h1M968 182.5h1M976 182.5h1M82 240.5h1M90 240.5h1M98 240.5h1M106 240.5h1M114 240.5h1M122 240.5h1M130 240.5h1M138 240.5h1M146 240.5h1M155 240.5h1M163 240.5h1M171 240.5h1M179 240.5h1M187 240.5h1M195 240.5h1M203 240.5h1M211 240.5h1M219 240.5h1M227 240.5h1M235 240.5h1M243 240.5h1M251 240.5h1M259 240.5h1M267 240.5h1M275 240.5h1M283 240.5h1M291 240.5h1M300 240.5h1M308 240.5h1M316 240.5h1M324 240.5h1M332 240.5h1M340 240.5h1M348 240.5h1M356 240.5h1M364 240.5h1M372 240.5h1M380 240.5h1M388 240.5h1M396 240.5h1M404 240.5h1M412 240.5h1M420 240.5h1M428 240.5h1M437 240.5h1M445 240.5h1M453 240.5h1M461 240.5h1M469 240.5h1M477 240.5h1M485 240.5h1M493 240.5h1M501 240.5h1M509 240.5h1M517 240.5h1M525 240.5h1M533 240.5h1M541 240.5h1M549 240.5h1M557 240.5h1M565 240.5h1M573 240.5h1M582 240.5h1M590 240.5h1M598 240.5h1M606 240.5h1M614 240.5h1M622 240.5h1M630 240.5h1M638 240.5h1M646 240.5h1M654 240.5h1M662 240.5h1M670 240.5h1M678 240.5h1M686 240.5h1M694 240.5h1M702 240.5h1M710 240.5h1M719 240.5h1M727 240.5h1M735 240.5h1M743 240.5h1M751 240.5h1M759 240.5h1M767 240.5h1M775 240.5h1M783 240.5h1M791 240.5h1M799 240.5h1M807 240.5h1M815 240.5h1M823 240.5h1M831 240.5h1M839 240.5h1M847 240.5h1M855 240.5h1M864 240.5h1M872 240.5h1M880 240.5h1M888 240.5h1M896 240.5h1M904 240.5h1M912 240.5h1M920 240.5h1M928 240.5h1M936 240.5h1M944 240.5h1M952 240.5h1M960 240.5h1M968 240.5h1M976 240.5h1M82 299.5h1M90 299.5h1M98 299.5h1M106 299.5h1M114 299.5h1M122 299.5h1M130 299.5h1M138 299.5h1M146 299.5h1M155 299.5h1M163 299.5h1M171 299.5h1M179 299.5h1M187 299.5h1M195 299.5h1M203 299.5h1M211 299.5h1M219 299.5h1M227 299.5h1M235 299.5h1M243 299.5h1M251 299.5h1M259 299.5h1M267 299.5h1M275 299.5h1M283 299.5h1M291 299.5h1M300 299.5h1M308 299.5h1M316 299.5h1M324 299.5h1M332 299.5h1M340 299.5h1M348 299.5h1M356 299.5h1M364 299.5h1M372 299.5h1M380 299.5h1M388 299.5h1M396 299.5h1M404 299.5h1M412 299.5h1M420 299.5h1M428 299.5h1M437 299.5h1M445 299.5h1M453 299.5h1M461 299.5h1M469 299.5h1M477 299.5h1M485 299.5h1M493 299.5h1M501 299.5h1M509 299.5h1M517 299.5h1M525 299.5h1M533 299.5h1M541 299.5h1M549 299.5h1M557 299.5h1M565 299.5h1M573 299.5h1M582 299.5h1M590 299.5h1M598 299.5h1M606 299.5h1M614 299.5h1M622 299.5h1M630 299.5h1M638 299.5h1M646 299.5h1M654 299.5h1M662 299.5h1M670 299.5h1M678 299.5h1M686 299.5h1M694 299.5h1M702 299.5h1M710 299.5h1M719 299.5h1M727 299.5h1M735 299.5h1M743 299.5h1M751 299.5h1M759 299.5h1M767 299.5h1M775 299.5h1M783 299.5h1M791 299.5h1M799 299.5h1M807 299.5h1M815 299.5h1M823 299.5h1M831 299.5h1M839 299.5h1M847 299.5h1M855 299.5h1M864 299.5h1M872 299.5h1M880 299.5h1M888 299.5h1M896 299.5h1M904 299.5h1M912 299.5h1M920 299.5h1M928 299.5h1M936 299.5h1M944 299.5h1M952 299.5h1M960 299.5h1M968 299.5h1M976 299.5h1" stroke="#929292" stroke-width="1" fill="none"/>
<line x1="82" y1="357.5" x2="984.5" y2="357.5" stroke="#cacaca" stroke-width="1"/>
<line x1="163.5" y1="358" x2="163.5" y2="366.5" stroke="#cacaca" stroke-width="1"/>
<line x1="252.5" y1="358" x2="252.5" y2="366.5" stroke="#cacaca" stroke-width="1"/>
<line x1="343.5" y1="358" x2="343.5" y2="366.5" stroke="#cacaca" stroke-width="1"/>
<line x1="434.5" y1="358" x2="434.5" y2="366.5" stroke="#cacaca" stroke-width="1"/>
<line x1="522.5" y1="358" x2="522.5" y2="366.5" stroke="#cacaca" stroke-width="1"/>
<line x1="612.5" y1="358" x2="612.5" y2="366.5" stroke="#cacaca" stroke-width="1"/>
<line x1="704.5" y1="358" x2="704.5" y2="366.5" stroke="#cacaca" stroke-width="1"/>
<line x1="795.5" y1="358" x2="795.5" y2="366.5" stroke="#cacaca" stroke-width="1"/>
<line x1="884.5" y1="358" x2="884.5" y2="366.5" stroke="#cacaca" stroke-width="1"/>
<line x1="973.5" y1="358" x2="973.5" y2="366.5" stroke="#cacaca" stroke-width="1"/>
<text x="74" y="363" text-anchor="end" font-size="16.5" fill="#b9b9b9" textLength="5" lengthAdjust="spacingAndGlyphs">0</text>
<text x="75" y="305" text-anchor="end" font-size="16.5" fill="#b9b9b9" textLength="45" lengthAdjust="spacingAndGlyphs">200,000</text>
<text x="75" y="246" text-anchor="end" font-size="16.5" fill="#b9b9b9" textLength="45" lengthAdjust="spacingAndGlyphs">400,000</text>
<text x="75" y="188" text-anchor="end" font-size="16.5" fill="#b9b9b9" textLength="45" lengthAdjust="spacingAndGlyphs">600,000</text>
<text x="75" y="130" text-anchor="end" font-size="16.5" fill="#b9b9b9" textLength="45.5" lengthAdjust="spacingAndGlyphs">800,000</text>
<text x="75" y="72" text-anchor="end" font-size="16.5" fill="#b9b9b9" textLength="54" lengthAdjust="spacingAndGlyphs">1,000,000</text>
<text x="162.9" y="388.2" text-anchor="middle" font-size="16.5" fill="#b9b9b9" textLength="17.5" lengthAdjust="spacingAndGlyphs">Apr</text>
<text x="252.3" y="388.2" text-anchor="middle" font-size="16.5" fill="#b9b9b9" textLength="12" lengthAdjust="spacingAndGlyphs">Jul</text>
<text x="343.2" y="388.2" text-anchor="middle" font-size="16.5" fill="#b9b9b9" textLength="17" lengthAdjust="spacingAndGlyphs">Oct</text>
<text x="434.4" y="388.2" text-anchor="middle" font-size="16.5" fill="#b9b9b9" textLength="16" lengthAdjust="spacingAndGlyphs">Jan</text>
<text x="522.4" y="388.2" text-anchor="middle" font-size="16.5" fill="#b9b9b9" textLength="17.5" lengthAdjust="spacingAndGlyphs">Apr</text>
<text x="612.4" y="388.2" text-anchor="middle" font-size="16.5" fill="#b9b9b9" textLength="12" lengthAdjust="spacingAndGlyphs">Jul</text>
<text x="703.5" y="388.2" text-anchor="middle" font-size="16.5" fill="#b9b9b9" textLength="17" lengthAdjust="spacingAndGlyphs">Oct</text>
<text x="794.6" y="388.2" text-anchor="middle" font-size="16.5" fill="#b9b9b9" textLength="16" lengthAdjust="spacingAndGlyphs">Jan</text>
<text x="883.5" y="388.2" text-anchor="middle" font-size="16.5" fill="#b9b9b9" textLength="17.5" lengthAdjust="spacingAndGlyphs">Apr</text>
<text x="973.4" y="388.2" text-anchor="middle" font-size="16.5" fill="#b9b9b9" textLength="12" lengthAdjust="spacingAndGlyphs">Jul</text>
<text x="162.9" y="407.8" text-anchor="middle" font-size="16.5" fill="#b9b9b9" textLength="25.5" lengthAdjust="spacingAndGlyphs">2020</text>
<text x="434.4" y="407.8" text-anchor="middle" font-size="16.5" fill="#b9b9b9" textLength="25.5" lengthAdjust="spacingAndGlyphs">2021</text>
<text x="794.6" y="407.8" text-anchor="middle" font-size="16.5" fill="#b9b9b9" textLength="25.5" lengthAdjust="spacingAndGlyphs">2022</text>
<path d="M96.3 357.3 L146.6 357.3 L149.4 356.4 L153.5 354.9 L157.6 353.1 L163.4 349.6 L169.3 347.8 L172.8 347.8 L178.6 349 L186.8 348.8 L192.7 349.2 L204.4 350.5 L219.6 351.2 L233.7 350.5 L239.5 349.6 L245.4 347.2 L250 345.2 L252.4 343.7 L258.2 342.2 L265.2 338.7 L273.4 338.1 L279.3 338.1 L284 339.9 L287.5 341.1 L294.5 340.5 L298 341.7 L303.9 344.4 L312 344.8 L317.9 345.8 L322.6 347.7 L329.6 345.2 L336.3 344.2 L342.6 344.7 L347.4 344.7 L353.7 342.3 L361.5 339.9 L366.3 338.4 L371 334.4 L375.7 330.5 L380.5 324.2 L385.2 317.9 L389.9 311.5 L393.9 306.8 L397 305.2 L400.2 307.6 L402.6 309.2 L405.7 303.7 L408.9 297.4 L411.8 295.2 L415.5 293 L419.2 292.2 L424.1 294.4 L427.8 300.6 L430.3 303 L434 296.9 L438.3 289.5 L440.7 284.6 L443.6 283.6 L446.3 284.6 L448.7 289.5 L456.1 306.7 L461 310.4 L468.4 319 L471 321.8 L476.2 330.3 L483.3 337.8 L488.7 336.8 L495 338.9 L501.2 340.8 L512.1 341.2 L520 338.1 L527.8 338.4 L535.6 336.8 L540.2 337.6 L548 341.2 L555.9 343.1 L569.9 349 L577.7 350.3 L585.5 352.5 L594.9 352.9 L602.7 353.7 L615.2 353.4 L620 352 L623 350.9 L629.2 347.4 L638.4 340 L644 333.6 L649.5 326.2 L654.1 319.4 L658.7 317 L662.4 314.2 L667.9 312 L673.5 309.3 L677.1 308.7 L679 313.3 L683.6 313.9 L685.4 310.2 L689.1 312.8 L693.7 317 L697.4 322 L702.9 323.5 L712.2 329 L721.4 333.6 L726.9 336 L738 335.4 L745.3 333.6 L750.9 329.9 L756.4 329.4 L760.1 336 L763.6 332 L766.6 322.3 L770 321.4 L776.9 321.7 L781.4 315.4 L784.8 304.1 L788.2 298.5 L789.3 288.3 L790.9 272.5 L792.2 254.5 L793.5 241.2 L795.5 233 L796.5 206.3 L798.6 181.7 L801.3 155 L802 140.7 L803 132.5 L805.1 123.8 L806.6 122.1 L808.7 121.8 L809.7 124.3 L810.2 135.6 L810.7 151 L812.3 135 L814.8 143.8 L816.3 140.7 L817.2 144 L817.8 158.5 L818.5 170.8 L819.7 183 L820.8 195 L822.9 209.3 L824.3 223.7 L825.1 238 L826.5 252.3 L827.3 262 L829.6 273.9 L832.2 289.6 L834.8 303.6 L837.4 306.8 L839.2 315.7 L841.8 324.5 L845.3 331.4 L848.7 336.7 L852.2 337.5 L855.7 340.1 L860.1 344.2 L864.8 347.4 L870 348.1 L874.3 348.1 L881.5 348.5 L887.3 349.5 L894.4 346 L898.7 347.4 L904.5 343.1 L910.2 340.5 L915.2 338.8 L918.8 335.9 L923.1 331.6 L926 332.3 L931.7 324.4 L936 325.2 L938.9 325.9 L941.8 330.2 L944.7 327.3 L948.2 321.3 L950.4 324.4 L954.7 325.6 L960.4 327 L962.6 329.5 L967.6 327.6 L973.4 322.7" stroke="#7a3080" stroke-width="2.5" fill="none" stroke-linejoin="round"/>
<path d="M96.3 357.3 L146.6 357.3" stroke="#8e668c" stroke-width="2.9" fill="none"/>
<line x1="410.8" y1="285.5" x2="438.6" y2="285.5" stroke="#752f79" stroke-width="1"/>
<text x="320.5" y="289.7" font-size="17.5" font-style="italic" fill="#8a3d8e" stroke="#8a3d8e" stroke-width="0.55" textLength="86.5" lengthAdjust="spacingAndGlyphs">7-day rolling avg.</text>
<rect x="393" y="342.5" width="84" height="15" fill="#fff"/>
<text x="395" y="353.8" font-size="16.5" font-style="italic" fill="#fff" stroke="#fff" stroke-width="6.5" stroke-linejoin="round" textLength="80" lengthAdjust="spacingAndGlyphs">New daily cases</text>
<text x="395" y="353.8" font-size="16.5" font-style="italic" fill="#6374c0" stroke="#6374c0" stroke-width="0.6" textLength="80" lengthAdjust="spacingAndGlyphs">New daily cases</text>
<text x="22.4" y="36.5" font-size="32" font-weight="bold" fill="#2b2b2b" textLength="239" lengthAdjust="spacingAndGlyphs">Daily US COVID-19 cases</text>
<text x="21.4" y="434.6" font-size="15.6" fill="#bcbcbc" textLength="95.4" lengthAdjust="spacingAndGlyphs">Chart updates daily.</text>
<text x="21.4" y="458.7" font-size="15.6" fill="#bcbcbc" textLength="337.7" lengthAdjust="spacingAndGlyphs">Source: Johns Hopkins University / Graphic: Phil Holm &amp; Nicky Forster</text>
<rect x="964" y="440" width="27" height="30" fill="#f9f9f9"/>
<text x="966" y="456.3" font-size="15" font-weight="bold" fill="#111" stroke="#111" stroke-width="0.4" textLength="19.5" lengthAdjust="spacingAndGlyphs">AP</text>
<rect x="965" y="462" width="22" height="2.5" fill="#c8475a"/>
</svg>
</body></html>
